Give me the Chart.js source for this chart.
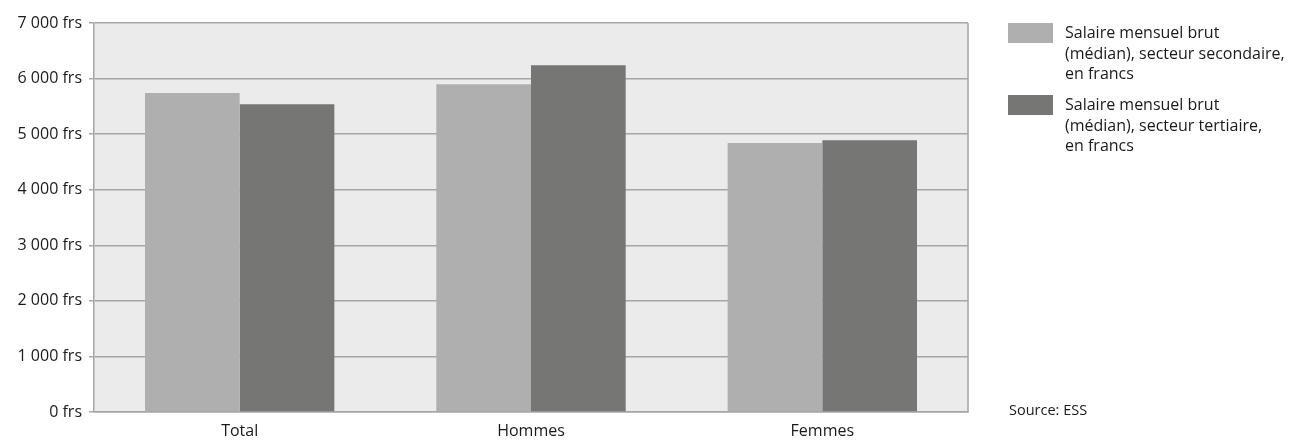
<!DOCTYPE html>
<html><head><meta charset="utf-8">
<script src="https://cdn.jsdelivr.net/npm/chart.js@4"></script>
<style>
html,body{margin:0;padding:0;background:#fff;}
#wrap{position:relative;width:1316px;height:443px;}
canvas{position:absolute;left:0;top:0;}
.leg{position:absolute;left:1008px;font-family:"Open Sans",sans-serif;font-size:16px;line-height:20.5px;color:#1a1a1a;}
.sw{position:absolute;left:0;top:0;width:45px;height:20px;}
.lt{position:absolute;left:57px;top:-1px;white-space:nowrap;}
#src{position:absolute;left:1009px;top:400px;font-family:"Open Sans",sans-serif;font-size:14.5px;line-height:20px;color:#1a1a1a;}
</style></head>
<body>
<div id="wrap">
<canvas id="c" width="1316" height="443"></canvas>
<div id="legend"></div>
<div id="src">Source: ESS</div>
</div>
<script>
const categories = ["Total", "Hommes", "Femmes"];
const seriesNames = [
  ["Salaire mensuel brut", "(médian), secteur secondaire,", "en francs"],
  ["Salaire mensuel brut", "(médian), secteur tertiaire,", "en francs"]
];
const secondaire = [5740, 5900, 4840];
const tertiaire = [5540, 6240, 4890];
const colors = ["#afafaf", "#767674"];

const leg = document.getElementById('legend');
seriesNames.forEach((lines, i) => {
  const d = document.createElement('div');
  d.className = 'leg';
  d.style.top = (23 + i * 72) + 'px';
  d.innerHTML = '<div class="sw" style="background:' + colors[i] + '"></div><div class="lt">' + lines.join('<br>') + '</div>';
  leg.appendChild(d);
});

const frame = {
  id: 'frame',
  beforeDraw(chart) {
    const a = chart.chartArea, ctx = chart.ctx;
    ctx.save();
    ctx.fillStyle = '#ebebeb';
    ctx.fillRect(a.left, a.top, a.right - a.left, a.bottom - a.top);
    ctx.restore();
  },
  afterDraw(chart) {
    const a = chart.chartArea, ctx = chart.ctx;
    ctx.save();
    ctx.strokeStyle = '#a6a6a6';
    ctx.lineWidth = 1.5;
    ctx.beginPath();
    ctx.moveTo(a.right, a.top);
    ctx.lineTo(a.right, a.bottom);
    ctx.stroke();
    ctx.restore();
  }
};

new Chart(document.getElementById('c'), {
  type: 'bar',
  data: {
    labels: categories,
    datasets: [
      { label: seriesNames[0].join(' '), data: secondaire, backgroundColor: colors[0], categoryPercentage: 0.65, barPercentage: 1.0 },
      { label: seriesNames[1].join(' '), data: tertiaire, backgroundColor: colors[1], categoryPercentage: 0.65, barPercentage: 1.0 }
    ]
  },
  options: {
    responsive: false,
    animation: false,
    devicePixelRatio: 1,
    layout: { padding: { top: 23, right: 348, left: 0, bottom: 0 } },
    plugins: { legend: { display: false }, tooltip: { enabled: false } },
    scales: {
      x: {
        grid: { display: false },
        border: { display: true, color: '#a6a6a6', width: 1.5 },
        ticks: { color: '#1a1a1a', font: { family: 'Open Sans', size: 16 }, padding: 2 },
        afterFit(s) { s.height = 31; }
      },
      y: {
        min: 0, max: 7000,
        ticks: {
          stepSize: 1000,
          color: '#1a1a1a',
          font: { family: 'Open Sans', size: 16 },
          padding: 7,
          callback: v => (v >= 1000 ? Math.floor(v / 1000) + ' 000' : String(v)) + ' frs'
        },
        grid: { color: '#a6a6a6', lineWidth: 1.5, tickLength: 5, drawTicks: true },
        border: { display: true, color: '#a6a6a6', width: 1.5 },
        afterFit(s) { s.width = 94; }
      }
    }
  },
  plugins: [frame]
});
</script>
</body></html>
